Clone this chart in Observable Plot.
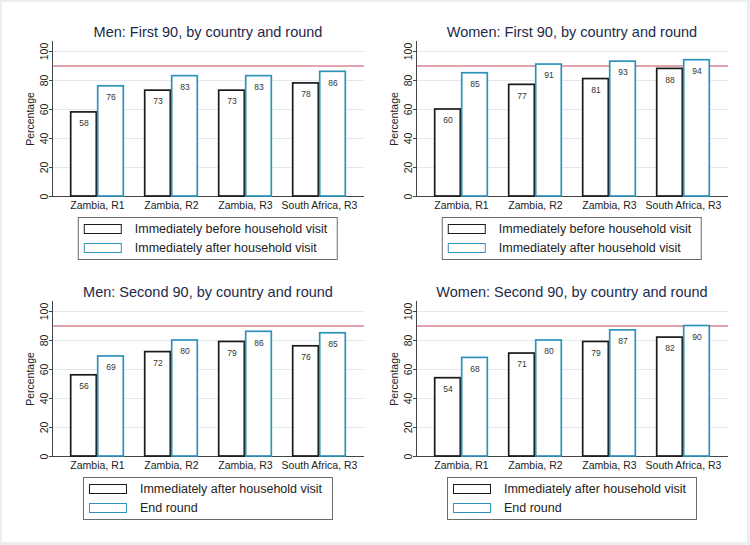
<!DOCTYPE html>
<html>
<head>
<meta charset="utf-8">
<script src="https://cdn.jsdelivr.net/npm/d3@7"></script>
<script src="https://cdn.jsdelivr.net/npm/@observablehq/plot@0.6"></script>
<style>
  html, body { margin: 0; padding: 0; }
  body { width: 750px; height: 545px; background: #e9eff2; position: relative; overflow: hidden;
         font-family: "Liberation Sans", Arial, sans-serif; }
  #page { position: absolute; left: 2px; top: 2px; width: 745px; height: 540px; background: #ffffff; }
  .panel { position: absolute; width: 364px; height: 260px; }
  .title { position: absolute; left: 52px; width: 312px; top: 22px; height: 20px; line-height: 20px;
           text-align: center; font-size: 14.5px; color: #1e2a4a; white-space: nowrap; }
  .chart { position: absolute; left: 0; top: 30px; width: 364px; height: 190px; }
  .chart svg { position: absolute; left: 0; top: 0; overflow: visible; background: transparent; }
  .legend { position: absolute; top: 217px; left: 208px; transform: translateX(-50%);
            border: 1px solid #6b6b6b; padding: 1px 10px 1px 5px; background: #fff; white-space: nowrap; }
  .row { height: 19.5px; display: flex; align-items: center; font-size: 12.5px; color: #222; }
  .key { box-sizing: border-box; width: 38px; height: 10px; border: 1.7px solid #1a1a1a; margin-right: 13px; background: #fff; }
</style>
</head>
<body>
<div id="page"></div>
<script>
const categories = ["Zambia, R1", "Zambia, R2", "Zambia, R3", "South Africa, R3"];
const menFirstBefore = [58, 73, 73, 78];
const menFirstAfter = [76, 83, 83, 86];
const womenFirstBefore = [60, 77, 81, 88];
const womenFirstAfter = [85, 91, 93, 94];
const menSecondAfterVisit = [56, 72, 79, 76];
const menSecondEndRound = [69, 80, 86, 85];
const womenSecondAfterVisit = [54, 71, 79, 82];
const womenSecondEndRound = [68, 80, 87, 90];
const yTicks = [0, 20, 40, 60, 80, 100];
const target = [90];
const legendFirst = ["Immediately before household visit", "Immediately after household visit"];
const legendSecond = ["Immediately after household visit", "End round"];
const titles = [
  "Men: First 90, by country and round",
  "Women: First 90, by country and round",
  "Men: Second 90, by country and round",
  "Women: Second 90, by country and round"
];
const seriesColors = ["#1a1a1a", "#2e93bb"];

const panels = [
  {title: titles[0], a: menFirstBefore, b: menFirstAfter, labels: legendFirst},
  {title: titles[1], a: womenFirstBefore, b: womenFirstAfter, labels: legendFirst},
  {title: titles[2], a: menSecondAfterVisit, b: menSecondEndRound, labels: legendSecond},
  {title: titles[3], a: womenSecondAfterVisit, b: womenSecondEndRound, labels: legendSecond}
];

const common = {
  width: 364, height: 190,
  marginLeft: 52, marginRight: 0, marginTop: 11, marginBottom: 24,
  style: {fontFamily: "'Liberation Sans', Arial, sans-serif", fontSize: "10.5px", color: "#222", background: "transparent", overflow: "visible"},
  y: {domain: [0, 106.9], axis: null}
};

function makeBackground() {
  return Plot.plot({
    ...common,
    marks: [
      Plot.gridY(yTicks.slice(1), {stroke: "#e1e9ed", strokeOpacity: 1}),
      Plot.ruleY(target, {stroke: "#c34a5f", strokeWidth: 1.2}),
      Plot.ruleY([0], {stroke: "#444"}),
      Plot.frame({anchor: "left", stroke: "#444"}),
      Plot.axisY({ticks: yTicks, anchor: "left", tickRotate: -90, tickSize: 3, tickPadding: 2, label: "Percentage", labelAnchor: "center", labelArrow: "none", labelOffset: 26, stroke: "#444"})
    ]
  });
}

function makeBars(a, b, labels) {
  const data = categories.flatMap((c, i) => [
    {cat: c, s: labels[0], v: a[i]},
    {cat: c, s: labels[1], v: b[i]}
  ]);
  return Plot.plot({
    ...common,
    fx: {domain: categories, paddingInner: 0.27, paddingOuter: 0.23, label: null},
    x: {domain: labels, padding: 0, axis: null},
    color: {domain: labels, range: seriesColors},
    marks: [
      Plot.barY(data, {fx: "cat", x: "s", y: "v", fill: "white", stroke: "s", strokeWidth: 1.7, insetLeft: 0.7, insetRight: 0.7}),
      Plot.text(data, {fx: "cat", x: "s", y: "v", text: d => String(d.v), dy: 11, fontSize: 8.5, fill: "#333"}),
      Plot.axisFx({anchor: "bottom", tickSize: 0, tickPadding: 5, label: null})
    ]
  });
}

const page = document.getElementById("page");
panels.forEach((p, k) => {
  const col = k % 2, row = Math.floor(k / 2);
  const div = document.createElement("div");
  div.className = "panel";
  div.style.left = (col * 364 - 2) + "px";
  div.style.top = (row * 260 - 2) + "px";
  const t = document.createElement("div");
  t.className = "title";
  t.textContent = p.title;
  div.appendChild(t);
  const c = document.createElement("div");
  c.className = "chart";
  c.appendChild(makeBackground());
  c.appendChild(makeBars(p.a, p.b, p.labels));
  div.appendChild(c);
  const lg = document.createElement("div");
  lg.className = "legend";
  p.labels.forEach((lab, i) => {
    const r = document.createElement("div");
    r.className = "row";
    const key = document.createElement("span");
    key.className = "key";
    key.style.borderColor = seriesColors[i];
    r.appendChild(key);
    const tx = document.createElement("span");
    tx.textContent = lab;
    r.appendChild(tx);
    lg.appendChild(r);
  });
  div.appendChild(lg);
  page.appendChild(div);
});
</script>
</body>
</html>
